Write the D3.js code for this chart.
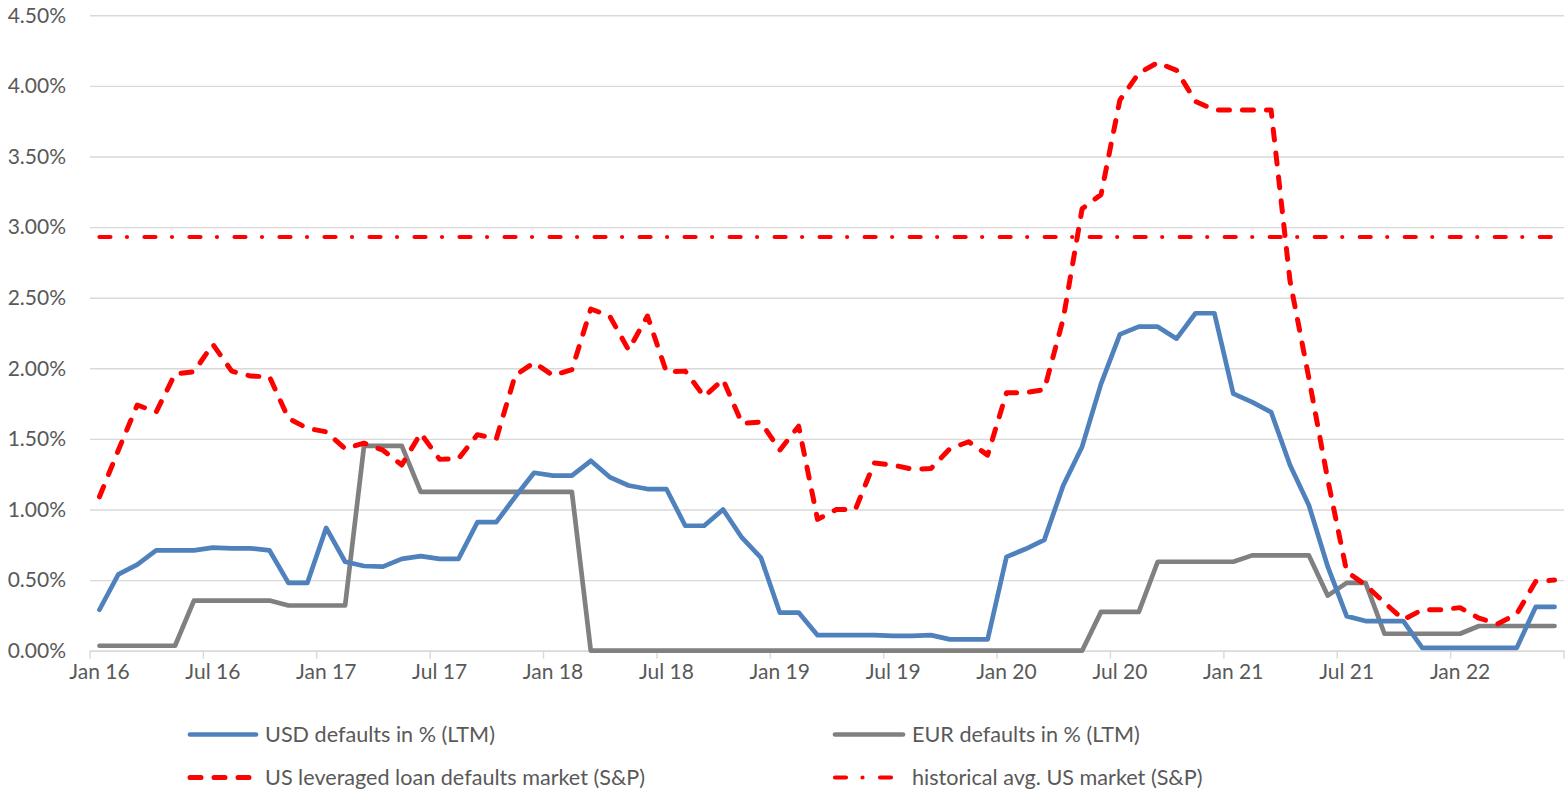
<!DOCTYPE html>
<html>
<head>
<meta charset="utf-8">
<script src="https://cdn.jsdelivr.net/npm/d3@7"></script>
<style>
  html, body { margin: 0; padding: 0; background: #ffffff; }
  svg text { font-family: Lato, "Open Sans", sans-serif; fill: #595959; }
</style>
</head>
<body>
<svg id="chart" width="1568" height="791"></svg>
<script>
// ---------- data ----------
const monthNames = ["Jan","Feb","Mar","Apr","May","Jun","Jul","Aug","Sep","Oct","Nov","Dec"];
const years = [16,17,18,19,20,21,22];
const months = [];
years.forEach(y => monthNames.forEach((m) => { months.push(m + " " + y); }));
const categories = months.slice(0, 78); // Jan 16 .. Jun 22

const usdDefaults = [
  0.29,0.54,0.61,0.71,0.71,0.71,0.73,0.725,0.725,0.71,0.48,0.48,
  0.87,0.63,0.60,0.595,0.65,0.67,0.65,0.65,0.91,0.91,1.09,1.26,
  1.24,1.24,1.345,1.23,1.17,1.145,1.145,0.885,0.885,1.00,0.80,0.66,
  0.27,0.27,0.11,0.11,0.11,0.11,0.105,0.105,0.11,0.08,0.08,0.08,
  0.665,0.72,0.785,1.17,1.445,1.89,2.24,2.295,2.295,2.21,2.39,2.39,
  1.82,1.76,1.69,1.315,1.03,0.595,0.245,0.21,0.21,0.21,0.02,0.02,
  0.02,0.02,0.02,0.02,0.31,0.31
];
const eurDefaults = [
  0.035,0.035,0.035,0.035,0.035,0.355,0.355,0.355,0.355,0.355,0.32,0.32,
  0.32,0.32,1.45,1.45,1.45,1.125,1.125,1.125,1.125,1.125,1.125,1.125,
  1.125,1.125,0,0,0,0,0,0,0,0,0,0,
  0,0,0,0,0,0,0,0,0,0,0,0,
  0,0,0,0,0,0.275,0.275,0.275,0.63,0.63,0.63,0.63,
  0.63,0.675,0.675,0.675,0.675,0.39,0.48,0.48,0.12,0.12,0.12,0.12,
  0.12,0.175,0.175,0.175,0.175,0.175
];
const usLeveragedLoan = [
  1.09,1.42,1.74,1.69,1.96,1.975,2.17,1.98,1.945,1.94,1.645,1.575,
  1.55,1.43,1.47,1.42,1.315,1.54,1.355,1.36,1.53,1.50,1.95,2.04,
  1.95,1.99,2.42,2.37,2.13,2.37,1.975,1.98,1.80,1.92,1.61,1.62,
  1.42,1.59,0.93,1.00,1.00,1.33,1.315,1.285,1.29,1.43,1.48,1.385,
  1.827,1.827,1.85,2.35,3.13,3.23,3.90,4.09,4.165,4.11,3.89,3.83,
  3.83,3.83,3.83,2.62,1.93,1.21,0.56,0.465,0.34,0.22,0.29,0.29,
  0.305,0.23,0.19,0.26,0.49,0.50
];
const historicalAvg = categories.map(() => 2.93);

const yTicks = [0,0.5,1.0,1.5,2.0,2.5,3.0,3.5,4.0,4.5];
const seriesNames = [
  "USD defaults in % (LTM)",
  "EUR defaults in % (LTM)",
  "US leveraged loan defaults market (S&P)",
  "historical avg. US market (S&P)"
];

// ---------- layout ----------
const svg = d3.select("#chart");
const plotLeft = 90, plotRight = 1564, plotTop = 15.3, plotBottom = 650.7;

const x = d3.scaleBand().domain(categories).range([plotLeft, plotRight]).padding(0);
const y = d3.scaleLinear().domain([0, 4.5]).range([plotBottom, plotTop]);
const cx = d => x(d) + x.bandwidth() / 2;

// gridlines
svg.append("g")
  .attr("transform", `translate(${plotLeft},0)`)
  .call(d3.axisLeft(y).tickValues(yTicks).tickSize(-(plotRight - plotLeft)).tickFormat(""))
  .call(g => g.select(".domain").remove())
  .call(g => g.selectAll("line").attr("stroke", "#d9d9d9").attr("stroke-width", 1.4));

// y labels
svg.append("g")
  .attr("transform", `translate(${plotLeft},0)`)
  .call(d3.axisLeft(y).tickValues(yTicks).tickSize(0).tickPadding(24)
    .tickFormat(d => d3.format(".2f")(d) + "%"))
  .call(g => g.select(".domain").remove())
  .call(g => g.selectAll("text").attr("font-size", 21).style("font-family", "Lato").attr("fill", "#595959"));

// x axis: labels at category centers, tick marks at category boundaries
const labelCats = categories.filter((d, i) => i % 6 === 0);
svg.append("g")
  .attr("transform", `translate(0,${plotBottom})`)
  .call(d3.axisBottom(x).tickValues(labelCats).tickSize(0).tickPadding(13))
  .call(g => g.select(".domain").attr("stroke", "#d9d9d9").attr("stroke-width", 1.4))
  .call(g => g.selectAll("text").attr("font-size", 21).style("font-family", "Lato").attr("fill", "#595959"));

const tickPositions = labelCats.map(d => x(d)).concat([plotRight]);
svg.append("g").selectAll("line").data(tickPositions).join("line")
  .attr("x1", d => d).attr("x2", d => d)
  .attr("y1", plotBottom).attr("y2", plotBottom + 8)
  .attr("stroke", "#d9d9d9").attr("stroke-width", 1.4);

// lines
const line = d3.line().x((d, i) => cx(categories[i])).y(d => y(d));

svg.append("path").datum(historicalAvg).attr("d", line)
  .attr("fill", "none").attr("stroke", "#ff0000").attr("stroke-width", 4.2)
  .attr("stroke-linecap", "round").attr("stroke-dasharray", "11,16.5,0.01,17.5");

svg.append("path").datum(eurDefaults).attr("d", line)
  .attr("fill", "none").attr("stroke", "#808080").attr("stroke-width", 4.7)
  .attr("stroke-linejoin", "round").attr("stroke-linecap", "round");

svg.append("path").datum(usdDefaults).attr("d", line)
  .attr("fill", "none").attr("stroke", "#4f81bd").attr("stroke-width", 4.7)
  .attr("stroke-linejoin", "round").attr("stroke-linecap", "round");

svg.append("path").datum(usLeveragedLoan).attr("d", line)
  .attr("fill", "none").attr("stroke", "#ff0000").attr("stroke-width", 5)
  .attr("stroke-linejoin", "round").attr("stroke-linecap", "round")
  .attr("stroke-dasharray", "11,13");

// legend
const legendItems = [
  { name: seriesNames[0], color: "#4f81bd", dash: null, w: 4.7, x1: 190, x2: 256, row: 0 },
  { name: seriesNames[1], color: "#808080", dash: null, w: 4.7, x1: 835, x2: 903, row: 0 },
  { name: seriesNames[2], color: "#ff0000", dash: "11,13", w: 5, x1: 190, x2: 256, row: 1 },
  { name: seriesNames[3], color: "#ff0000", dash: "11,16.5,0.01,17.5", w: 4.2, x1: 835, x2: 903, row: 1 }
];
const rowY = [734.5, 777.5];
const lg = svg.append("g");
legendItems.forEach(it => {
  lg.append("line")
    .attr("x1", it.x1).attr("x2", it.x2)
    .attr("y1", rowY[it.row]).attr("y2", rowY[it.row])
    .attr("stroke", it.color).attr("stroke-width", it.w)
    .attr("stroke-linecap", "round")
    .attr("stroke-dasharray", it.dash);
  lg.append("text")
    .attr("x", it.x2 + 9).attr("y", rowY[it.row])
    .attr("dy", "0.35em")
    .attr("font-size", 21.6)
    .text(it.name);
});
</script>
</body>
</html>
